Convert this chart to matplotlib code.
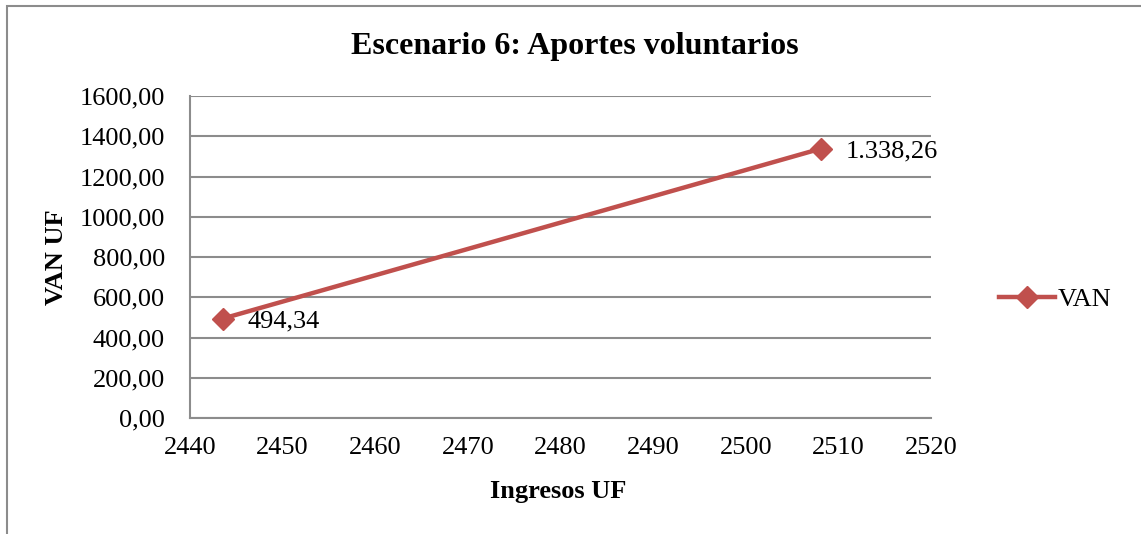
import matplotlib.pyplot as plt
from matplotlib.patches import Rectangle
from matplotlib.ticker import FuncFormatter

# data
ingresos = [2443.56, 2508.1]
van = [494.34, 1338.26]
van_labels = ['494,34', '1.338,26']

plt.rcParams['font.family'] = ['Liberation Serif', 'DejaVu Serif']

fig = plt.figure(figsize=(11.41, 5.34), dpi=100)
ax = fig.add_axes([0.1665, 0.2172, 0.6494, 0.603])

# outer chart frame
fig.patches.append(Rectangle((0.0062, -0.05), 1.2, 1.039, transform=fig.transFigure,
                             fill=False, edgecolor='#8c8c8c', linewidth=1.5))

line, = ax.plot(ingresos, van, color='#C0504D', linewidth=3.2, marker='D',
                markersize=11, label='VAN', zorder=3)

ax.annotate(van_labels[0], (ingresos[0], van[0]), xytext=(18, -2),
            textcoords='offset points', va='center', ha='left', fontsize=19)
ax.annotate(van_labels[1], (ingresos[1], van[1]), xytext=(18, -2),
            textcoords='offset points', va='center', ha='left', fontsize=19)

ax.set_xlim(2440, 2520)
ax.set_ylim(0, 1600)
ax.set_xticks(range(2440, 2521, 10))
ax.set_yticks(range(0, 1601, 200))
ax.yaxis.set_major_formatter(FuncFormatter(lambda v, p: f'{v:.2f}'.replace('.', ',')))
ax.tick_params(length=0, labelsize=19, pad=14)
ax.tick_params(axis='y', pad=18)
ax.grid(axis='y', color='#8c8c8c', linewidth=1.5)
ax.set_axisbelow(True)
for s in ['top', 'right']:
    ax.spines[s].set_visible(False)
for s in ['left', 'bottom']:
    ax.spines[s].set_color('#8c8c8c')
    ax.spines[s].set_linewidth(1.5)

fig.text(0.504, 0.912, 'Escenario 6: Aportes voluntarios', fontsize=23,
         fontweight='bold', ha='center', va='center')
ax.set_xlabel('Ingresos UF', fontsize=19, fontweight='bold', labelpad=15)
ax.xaxis.label.set_x(0.497)
ax.set_ylabel('VAN UF', fontsize=19, fontweight='bold', labelpad=8)

fig.legend(handles=[line], loc='center left', bbox_to_anchor=(0.855, 0.44),
           frameon=False, fontsize=19, handlelength=2.1, handletextpad=0.1)

fig.savefig('out.png', dpi=100)
